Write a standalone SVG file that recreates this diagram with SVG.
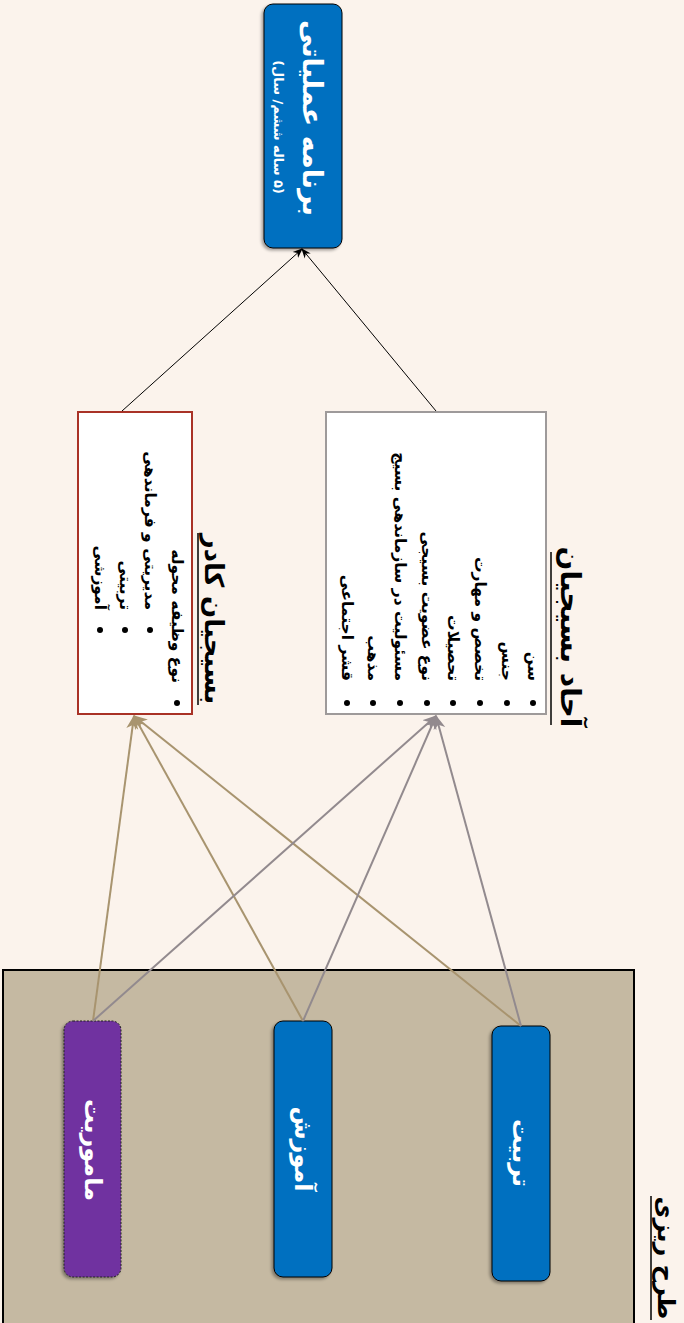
<svg xmlns="http://www.w3.org/2000/svg" width="684" height="1323" viewBox="0 0 684 1323">
<defs>
<style>
.fa{font-family:"DejaVu Sans","Noto Sans",sans-serif;font-weight:bold;direction:rtl;unicode-bidi:embed;dominant-baseline:central}
.w{fill:#ffffff}
.k{fill:#000000}
.node{stroke:#000;stroke-width:1}
.blue{fill:#0070C0}
.tan{stroke:#A8946F;stroke-width:2;fill:none}
.gray{stroke:#928A8E;stroke-width:2;fill:none}
.blk{stroke:#000;stroke-width:1;fill:none}
.ul{stroke:#000;stroke-width:1.5}
</style>
<marker id="aBlk" markerWidth="10" markerHeight="10" refX="9" refY="5" orient="auto" markerUnits="userSpaceOnUse" viewBox="0 0 10 10"><path d="M0,1 L10,5 L0,9 L3,5 z" fill="#000"/></marker>
<marker id="aTan" markerWidth="14" markerHeight="14" refX="13" refY="7" orient="auto" markerUnits="userSpaceOnUse" viewBox="0 0 14 14"><path d="M0,1 L14,7 L0,13 L4,7 z" fill="#A8946F"/></marker>
<marker id="aGray" markerWidth="14" markerHeight="14" refX="13" refY="7" orient="auto" markerUnits="userSpaceOnUse" viewBox="0 0 14 14"><path d="M0,1 L14,7 L0,13 L4,7 z" fill="#928A8E"/></marker>
<filter id="sh" x="-20%" y="-20%" width="140%" height="140%"><feDropShadow dx="-2" dy="2" stdDeviation="1.5" flood-color="#000" flood-opacity="0.35"/></filter>
</defs>
<rect x="0" y="0" width="684" height="1323" fill="#FBF3EC"/>

<g id="planning">
<rect x="3" y="970" width="631" height="360" fill="#C5B9A2" stroke="#000" stroke-width="2"/>
<text class="fa k" font-size="24" text-anchor="middle" transform="translate(666,1258) rotate(90)">طرح ریزی</text>
<line class="ul" x1="651" y1="1196" x2="651" y2="1320"/>
</g>

<g id="top">
<rect class="node blue" x="264" y="4" width="78" height="244" rx="9" filter="url(#sh)"/>
<text class="fa w" font-size="27" text-anchor="middle" transform="translate(312,118) rotate(90)">برنامه عملیاتی</text>
<text class="fa w" font-size="13" text-anchor="middle" transform="translate(278,127) rotate(90)">(۵ ساله ششم/ سال)</text>
</g>

<g id="kader">
<rect x="78" y="412" width="114" height="302" fill="#fff" stroke="#A93226" stroke-width="2"/>
<text class="fa k" font-size="26" text-anchor="middle" transform="translate(214,619) rotate(90)">بسیجیان کادر</text>
<line class="ul" x1="198" y1="533" x2="198" y2="705"/>
<circle cx="177" cy="703" r="3" class="k"/>
<text class="fa k" font-size="15.5" text-anchor="start" transform="translate(177,683) rotate(90)">نوع وظیفه محوله</text>
<circle cx="150" cy="630" r="3" class="k"/>
<text class="fa k" font-size="15.5" text-anchor="start" transform="translate(150,610) rotate(90)">مدیریتی و فرماندهی</text>
<circle cx="125" cy="630" r="3" class="k"/>
<text class="fa k" font-size="15.5" text-anchor="start" transform="translate(125,610) rotate(90)">تربیتی</text>
<circle cx="100" cy="630" r="3" class="k"/>
<text class="fa k" font-size="15.5" text-anchor="start" transform="translate(100,610) rotate(90)">آموزشی</text>
</g>

<g id="ahad">
<rect x="326" y="412" width="220" height="302" fill="#fff" stroke="#9E9A9A" stroke-width="2"/>
<text class="fa k" font-size="28" text-anchor="middle" transform="translate(570,637) rotate(90)">آحاد بسیجیان</text>
<line class="ul" x1="551" y1="552" x2="551" y2="725"/>
<circle cx="533" cy="703" r="3" class="k"/>
<text class="fa k" font-size="15.5" text-anchor="start" transform="translate(533,681) rotate(90)">سن</text>
<circle cx="507" cy="703" r="3" class="k"/>
<text class="fa k" font-size="15.5" text-anchor="start" transform="translate(507,681) rotate(90)">جنس</text>
<circle cx="480" cy="703" r="3" class="k"/>
<text class="fa k" font-size="15.5" text-anchor="start" transform="translate(480,681) rotate(90)">تخصص و مهارت</text>
<circle cx="453" cy="703" r="3" class="k"/>
<text class="fa k" font-size="15.5" text-anchor="start" transform="translate(453,681) rotate(90)">تحصیلات</text>
<circle cx="427" cy="703" r="3" class="k"/>
<text class="fa k" font-size="15.5" text-anchor="start" transform="translate(427,681) rotate(90)">نوع عضویت بسیجی</text>
<circle cx="400" cy="703" r="3" class="k"/>
<text class="fa k" font-size="15.5" text-anchor="start" transform="translate(400,681) rotate(90)">مسئولیت در سازماندهی بسیج</text>
<circle cx="373" cy="703" r="3" class="k"/>
<text class="fa k" font-size="15.5" text-anchor="start" transform="translate(373,681) rotate(90)">مذهب</text>
<circle cx="347" cy="703" r="3" class="k"/>
<text class="fa k" font-size="15.5" text-anchor="start" transform="translate(347,681) rotate(90)">قشر اجتماعی</text>
</g>

<g id="mamoriat">
<rect x="64" y="1021" width="57" height="256" rx="9" fill="#7030A0" stroke="#222" stroke-width="1" stroke-dasharray="2,1.5" filter="url(#sh)"/>
<text class="fa w" font-size="24" text-anchor="middle" transform="translate(93,1150) rotate(90)">ماموریت</text>
</g>

<g id="amozesh">
<rect class="node blue" x="274" y="1021" width="58" height="256" rx="9" filter="url(#sh)"/>
<text class="fa w" font-size="24" text-anchor="middle" transform="translate(303,1149) rotate(90)">آموزش</text>
</g>

<g id="tarbiat">
<rect class="node blue" x="492" y="1026" width="58" height="255" rx="9" filter="url(#sh)"/>
<text class="fa w" font-size="24" text-anchor="middle" transform="translate(521,1153) rotate(90)">تربیت</text>
</g>

<g id="connectors">
<line class="blk" x1="122" y1="411" x2="302" y2="249" marker-end="url(#aBlk)"/>
<line class="blk" x1="436" y1="411" x2="302" y2="249" marker-end="url(#aBlk)"/>
<line class="tan" x1="93" y1="1021" x2="134" y2="716" marker-end="url(#aTan)"/>
<line class="tan" x1="303" y1="1021" x2="134" y2="716" marker-end="url(#aTan)"/>
<line class="tan" x1="521" y1="1026" x2="134" y2="716" marker-end="url(#aTan)"/>
<line class="gray" x1="93" y1="1021" x2="436" y2="716" marker-end="url(#aGray)"/>
<line class="gray" x1="303" y1="1021" x2="436" y2="716" marker-end="url(#aGray)"/>
<line class="gray" x1="521" y1="1026" x2="436" y2="716" marker-end="url(#aGray)"/>
</g>
</svg>
